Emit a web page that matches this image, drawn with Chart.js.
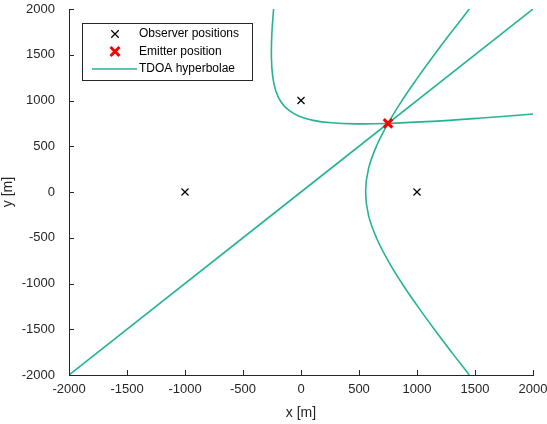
<!DOCTYPE html>
<html>
<head>
<meta charset="utf-8">
<script src="https://cdn.jsdelivr.net/npm/chart.js@4/dist/chart.umd.min.js"></script>
<style>
  html, body { margin: 0; padding: 0; background: #fff; }
  #wrap { width: 547px; height: 424px; }
</style>
</head>
<body>
<div id="wrap"><canvas id="tdoa"></canvas></div>
<script>
// Receiver and emitter positions [m]
const observerX = [-1000, 0, 1000];
const observerY = [0, 1000, 0];
const emitterX = [750];
const emitterY = [750];

// Hyperbola branch for the observer pair (-1000,0) / (1000,0)
const hypAX = [1451, 1298, 1149, 1006, 871, 750, 650, 581, 557, 581, 650, 750, 871, 1006, 1149, 1298, 1451];
const hypAY = [-2000, -1750, -1500, -1250, -1000, -750, -500, -250, 0, 250, 500, 750, 1000, 1250, 1500, 1750, 2000];

// Hyperbola branch for the observer pair (-1000,0) / (0,1000)
const hypBX = [-236, -251, -255, -244, -217, -172, -106, -16, 105, 263, 470, 737, 1083, 1527, 2000];
const hypBY = [2000, 1737, 1470, 1263, 1105, 984, 894, 828, 783, 756, 745, 749, 769, 806, 852];

// Degenerate branch for the pair (0,1000) / (1000,0): equal ranges
const hypCX = [-2000, 2000];
const hypCY = [-2000, 2000];

const xTicks = [-2000, -1500, -1000, -500, 0, 500, 1000, 1500, 2000];
const yTicks = [-2000, -1500, -1000, -500, 0, 500, 1000, 1500, 2000];

const TEAL = 'rgb(36, 180, 148)';
const AXIS = '#262626';
const FONT = "'Liberation Sans', Arial, sans-serif";

const toPoints = (xs, ys) => xs.map((x, i) => ({ x, y: ys[i] }));

// Inward tick marks, drawn along the left and bottom axis lines
const innerTicks = {
  id: 'innerTicks',
  afterDraw(chart) {
    const { ctx, chartArea: a, scales } = chart;
    ctx.save();
    ctx.strokeStyle = AXIS;
    ctx.lineWidth = 1;
    ctx.beginPath();
    xTicks.forEach(v => {
      const px = Math.round(scales.x.getPixelForValue(v)) + 0.5;
      ctx.moveTo(px, a.bottom);
      ctx.lineTo(px, a.bottom - 5);
    });
    yTicks.forEach(v => {
      const py = Math.round(scales.y.getPixelForValue(v)) + 0.5;
      ctx.moveTo(a.left, py);
      ctx.lineTo(a.left + 5, py);
    });
    ctx.stroke();
    ctx.restore();
  }
};

// Boxed legend in the upper left corner of the plot
const boxLegend = {
  id: 'boxLegend',
  afterDraw(chart) {
    const { ctx, chartArea: a } = chart;
    const x0 = a.left + 13, y0 = a.top + 14, w = 170, h = 57;
    ctx.save();
    ctx.fillStyle = '#fff';
    ctx.fillRect(x0, y0, w, h);
    ctx.strokeStyle = AXIS;
    ctx.lineWidth = 1;
    ctx.strokeRect(x0 + 0.5, y0 + 0.5, w, h);

    const items = [
      { ds: chart.data.datasets[0], kind: 'point' },
      { ds: chart.data.datasets[1], kind: 'point' },
      { ds: chart.data.datasets[2], kind: 'line' }
    ];
    const symX = x0 + 33;
    ctx.font = '12px ' + FONT;
    ctx.textBaseline = 'middle';
    items.forEach((it, i) => {
      const cy = y0 + 11 + i * 17.5;
      if (it.kind === 'point') {
        const r = it.ds.pointRadius;
        ctx.strokeStyle = it.ds.borderColor;
        ctx.lineWidth = it.ds.borderWidth;
        const d = r * 0.75;
        ctx.beginPath();
        ctx.moveTo(symX - d, cy - d); ctx.lineTo(symX + d, cy + d);
        ctx.moveTo(symX - d, cy + d); ctx.lineTo(symX + d, cy - d);
        ctx.stroke();
      } else {
        ctx.strokeStyle = it.ds.borderColor;
        ctx.lineWidth = it.ds.borderWidth;
        ctx.beginPath();
        ctx.moveTo(x0 + 10, cy); ctx.lineTo(x0 + 55, cy);
        ctx.stroke();
      }
      ctx.fillStyle = '#000';
      ctx.fillText(it.ds.label, x0 + 57, cy);
    });
    ctx.restore();
  }
};

const lineSet = (label, xs, ys) => ({
  label,
  data: toPoints(xs, ys),
  showLine: true,
  borderColor: TEAL,
  backgroundColor: TEAL,
  borderWidth: 1.6,
  pointRadius: 0,
  tension: 0.4,
  order: 2
});

const plainTick = v => String(v);

new Chart(document.getElementById('tdoa'), {
  type: 'scatter',
  data: {
    datasets: [
      {
        label: 'Observer positions',
        data: toPoints(observerX, observerY),
        pointStyle: 'crossRot',
        pointRadius: 5,
        borderColor: '#000',
        borderWidth: 1.2,
        order: 0
      },
      {
        label: 'Emitter position',
        data: toPoints(emitterX, emitterY),
        pointStyle: 'crossRot',
        pointRadius: 6,
        borderColor: '#f00',
        borderWidth: 3,
        order: 0
      },
      lineSet('TDOA hyperbolae', hypAX, hypAY),
      lineSet('TDOA hyperbolae', hypBX, hypBY),
      lineSet('TDOA hyperbolae', hypCX, hypCY)
    ]
  },
  options: {
    responsive: true,
    maintainAspectRatio: false,
    animation: false,
    layout: { padding: { left: 0, top: 0, right: 0, bottom: 0 } },
    plugins: {
      legend: { display: false },
      tooltip: { enabled: false }
    },
    scales: {
      x: {
        type: 'linear',
        min: -2000,
        max: 2000,
        afterBuildTicks: s => { s.ticks = xTicks.map(v => ({ value: v })); },
        afterFit: s => { s.height = 49; s.paddingRight = 14; },
        grid: { display: false },
        border: { display: true, color: AXIS, width: 1 },
        ticks: { color: '#262626', font: { family: FONT, size: 13 }, padding: -1, maxRotation: 0, callback: plainTick },
        title: { display: true, text: 'x [m]', color: '#262626', font: { family: FONT, size: 14 }, padding: { top: 2, bottom: 2 } }
      },
      y: {
        type: 'linear',
        min: -2000,
        max: 2000,
        afterBuildTicks: s => { s.ticks = yTicks.map(v => ({ value: v })); },
        afterFit: s => { s.width = 69; s.paddingTop = 8; },
        grid: { display: false },
        border: { display: true, color: AXIS, width: 1 },
        ticks: { color: '#262626', font: { family: FONT, size: 13 }, padding: 6, callback: plainTick },
        title: { display: true, text: 'y [m]', color: '#262626', font: { family: FONT, size: 14 }, padding: { top: 0, bottom: 2 } }
      }
    }
  },
  plugins: [innerTicks, boxLegend]
});
</script>
</body>
</html>
